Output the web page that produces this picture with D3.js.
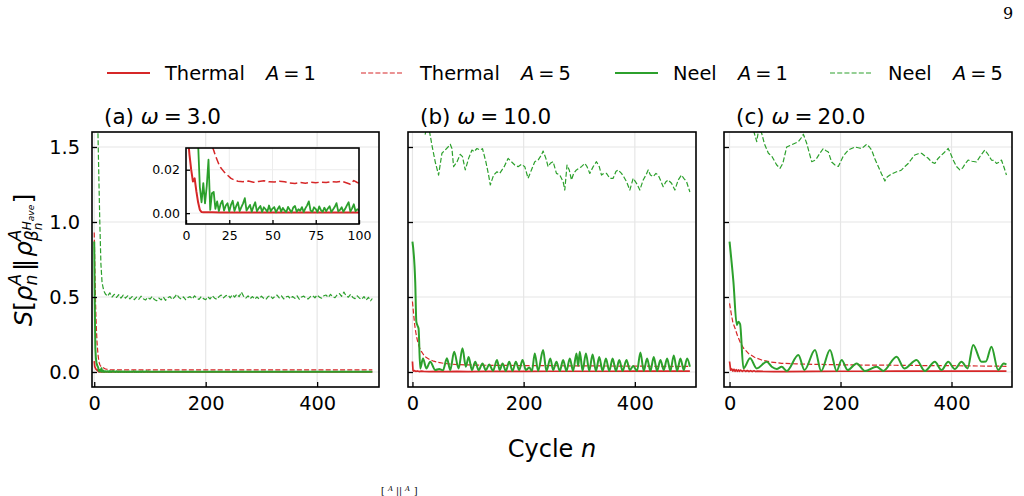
<!DOCTYPE html>
<html><head><meta charset="utf-8">
<script src="https://cdn.jsdelivr.net/npm/d3@7"></script>
<style>body{margin:0;background:#fff}svg{display:block}text{font-family:"DejaVu Sans",sans-serif;fill:#000}</style>
</head><body><svg id="fig" width="1024" height="496"></svg>
<script>
// ---------------- DATA ----------------
const panelTitles = ["(a)", "(b)", "(c)"];
const omegas = ["3.0", "10.0", "20.0"];
const legendNames = ["Thermal", "Thermal", "Neel", "Neel"];
const legendA = ["1", "5", "1", "5"];
const xTicks = [0, 200, 400];
const yTicks = [0, 0.5, 1.0, 1.5];
const insetXTicks = [0, 25, 50, 75, 100];
const insetYTicks = [0, 0.02];

// Panel (a) omega = 3.0   ([cycle n, S])
const a_thermal1 = [[0,0.072],[1,0.036],[2,0.027],[3,0.020],[4,0.0146],[5,0.016],[6,0.010],[7,0.005],[8,0.0015],[9,0.0005],[10,0.0004],[15,0.0004],[20,0.0003],[30,0.0003],[50,0.0003],[70,0.0003],[100,0.0003],[150,0.0003],[200,0.0003],[300,0.0003],[400,0.0003],[499,0.0003]];
const a_thermal5 = [[0,0.93],[1,0.72],[2,0.52],[3,0.38],[4,0.28],[5,0.20],[6,0.15],[7,0.11],[8,0.08],[9,0.062],[10,0.05],[11,0.043],[12,0.038],[13,0.035],[14,0.033],[15,0.031],[16,0.029],[17,0.0265],[18,0.0245],[19,0.0225],[20,0.021],[22,0.019],[24,0.0175],[26,0.016],[28,0.0152],[30,0.0147],[33,0.0145],[36,0.0148],[39,0.0142],[42,0.0146],[45,0.0149],[48,0.0144],[51,0.0143],[54,0.0147],[57,0.0145],[60,0.0139],[63,0.0137],[66,0.0141],[69,0.0138],[72,0.0142],[75,0.014],[78,0.0143],[81,0.0141],[84,0.0145],[87,0.0143],[90,0.0147],[93,0.0139],[95,0.0133],[97,0.015],[99,0.0141],[100,0.0138],[150,0.0144],[200,0.0142],[250,0.0145],[300,0.0143],[350,0.0144],[400,0.0143],[450,0.0145],[499,0.0144]];
// Neel A=1, one value per cycle n = 0..100
const a_neel1_first100 = [0.87,0.45,0.16,0.09,0.062,0.047,0.038,0.032,0.012,0.005,
 0.0138,0.0045,0.0125,0.0246,0.0015,0.0092,0.0098,0.002,0.0054,0.001,
 0.0042,0.0057,0.0012,0.0035,0.0046,0.0008,0.0038,0.0057,0.001,0.0032,
 0.005,0.0009,0.0028,0.0045,0.0069,0.0012,0.0025,0.0038,0.0006,0.0031,
 0.005,0.0008,0.0022,0.0033,0.0005,0.0027,0.0018,0.0006,0.0035,0.0009,
 0.0021,0.0028,0.0004,0.0019,0.0032,0.0007,0.0024,0.0012,0.0005,0.0029,
 0.0015,0.0004,0.0026,0.0033,0.0006,0.0018,0.0011,0.0028,0.0005,0.0022,
 0.0036,0.0054,0.0012,0.0006,0.0027,0.0019,0.0004,0.0031,0.0014,0.0006,
 0.0025,0.0009,0.0021,0.0032,0.0005,0.0017,0.0029,0.0046,0.0008,0.0015,
 0.0027,0.0006,0.002,0.0036,0.005,0.0007,0.0022,0.0041,0.0009,0.0018,0.0012];
const a_neel1_rest = [[110,0.002],[130,0.0015],[160,0.002],[200,0.0018],[250,0.002],[300,0.0017],[350,0.002],[400,0.0019],[450,0.002],[499,0.0018]];
const a_neel5_start = [[0,2.6],[2,2.3],[4,2.0],[6,1.72],[8,1.35],[10,1.0],[12,0.72],[14,0.6],[16,0.56],[18,0.535]];
// Neel A=5, every 4th cycle from n = 20 to 496
const a_neel5_every4 = [0.52,0.505,0.528,0.50,0.518,0.497,0.515,0.493,0.512,
 0.492,0.508,0.487,0.503,0.482,0.499,0.485,0.505,0.489,0.48,0.497,0.486,0.503,0.483,0.475,
 0.493,0.481,0.5,0.478,0.495,0.503,0.484,0.498,0.518,0.497,0.487,0.501,0.482,0.496,0.503,
 0.487,0.508,0.492,0.484,0.503,0.489,0.482,0.501,0.487,0.508,0.492,0.485,0.503,0.513,0.494,
 0.508,0.513,0.495,0.515,0.5,0.518,0.502,0.533,0.505,0.492,0.508,0.489,0.503,0.485,0.5,
 0.487,0.505,0.492,0.484,0.503,0.509,0.49,0.503,0.513,0.494,0.508,0.487,0.501,0.505,0.489,
 0.503,0.491,0.508,0.485,0.5,0.506,0.492,0.487,0.503,0.509,0.495,0.513,0.499,0.492,0.508,
 0.513,0.497,0.518,0.502,0.495,0.515,0.523,0.505,0.533,0.507,0.499,0.518,0.497,0.489,0.508,
 0.492,0.485,0.503,0.479,0.498,0.475];
const a_neel5_end = [[499,0.49]];

// Panel (b) omega = 10.0
const b_thermal1 = [[0,0.07],[1,0.012],[2,0.006],[4,0.009],[6,0.004],[9,0.007],[12,0.003],[16,0.006],[20,0.004],[30,0.003],[45,0.004],[60,0.003],[80,0.004],[100,0.003],[130,0.004],[160,0.004],[200,0.004],[250,0.005],[300,0.005],[350,0.005],[400,0.006],[450,0.006],[499,0.006]];
const b_thermal5 = [[0,0.47],[2,0.39],[4,0.315],[6,0.265],[8,0.225],[10,0.195],[13,0.16],[16,0.137],[20,0.115],[25,0.096],[30,0.085],[38,0.072],[46,0.064],[56,0.058],[70,0.052],[85,0.049],[100,0.047],[130,0.045],[160,0.044],[200,0.043],[250,0.042],[300,0.041],[350,0.04],[400,0.039],[450,0.038],[499,0.037]];
const b_neel1 = [[0,0.869],[5,0.60],[7,0.335],[9,0.31],[11,0.29],[14,0.024],[19,0.09],[25,0.024],[32,0.068],[41,0.013],[48,0.02],[55,0.012],[62,0.091],[68,0.013],[75,0.135],[83,0.024],[90,0.158],[96,0.035],[101,0.10],[107,0.013],[113,0.068],[119,0.012],[126,0.057],[132,0.012],[138,0.05],[145,0.008],[152,0.08],[157,0.013],[162,0.057],[168,0.007],[174,0.068],[180,0.007],[186,0.068],[192,0.013],[198,0.08],[204,0.013],[210,0.03],[215,0.007],[220,0.124],[226,0.007],[235,0.146],[241,0.007],[248,0.09],[253,0.013],[259,0.068],[265,0.007],[271,0.08],[277,0.007],[283,0.09],[289,0.007],[295,0.124],[298,0.04],[301,0.135],[306,0.007],[312,0.124],[318,0.007],[324,0.117],[330,0.007],[336,0.10],[342,0.007],[348,0.09],[354,0.007],[360,0.09],[366,0.007],[372,0.08],[378,0.007],[385,0.08],[391,0.013],[397,0.04],[404,0.007],[410,0.13],[416,0.007],[422,0.09],[428,0.007],[434,0.10],[440,0.007],[446,0.08],[452,0.013],[458,0.09],[464,0.007],[470,0.11],[476,0.007],[482,0.09],[488,0.013],[494,0.09],[499,0.035]];
const b_neel5 = [[0,2.4],[8,2.0],[15,1.8],[20,1.66],[23,1.585],[26,1.64],[31,1.598],[35,1.513],[41,1.40],[47,1.313],[53,1.458],[59,1.48],[64,1.50],[68,1.518],[71,1.49],[74,1.369],[80,1.40],[86,1.451],[90,1.436],[95,1.347],[101,1.424],[107,1.48],[111,1.469],[116,1.49],[122,1.48],[126,1.489],[132,1.402],[137,1.313],[140,1.247],[146,1.313],[152,1.335],[157,1.324],[165,1.369],[172,1.424],[178,1.402],[184,1.38],[190,1.369],[196,1.385],[202,1.369],[208,1.291],[214,1.347],[220,1.402],[226,1.413],[232,1.447],[235,1.473],[240,1.424],[244,1.369],[248,1.391],[253,1.402],[259,1.324],[265,1.313],[271,1.269],[274,1.213],[278,1.38],[282,1.347],[286,1.28],[290,1.324],[295,1.347],[304,1.369],[310,1.391],[314,1.369],[319,1.324],[325,1.369],[331,1.402],[336,1.369],[340,1.313],[344,1.324],[349,1.324],[355,1.291],[361,1.291],[366,1.336],[370,1.347],[376,1.324],[380,1.302],[385,1.269],[391,1.213],[397,1.291],[403,1.258],[409,1.213],[415,1.28],[420,1.313],[424,1.347],[428,1.313],[433,1.302],[438,1.324],[442,1.313],[446,1.28],[451,1.235],[456,1.269],[460,1.28],[466,1.258],[472,1.213],[478,1.28],[484,1.313],[488,1.291],[493,1.269],[499,1.2]];

// Panel (c) omega = 20.0
const c_thermal1 = [[0,0.07],[2,0.012],[4,0.02],[6,0.006],[8,0.018],[10,0.005],[12,0.016],[14,0.004],[16,0.014],[18,0.005],[20,0.013],[23,0.004],[26,0.012],[29,0.004],[32,0.01],[35,0.003],[38,0.009],[41,0.003],[44,0.008],[47,0.003],[50,0.006],[60,0.004],[80,0.003],[100,0.003],[150,0.004],[200,0.005],[250,0.005],[300,0.006],[350,0.006],[400,0.006],[450,0.006],[499,0.006]];
const c_thermal5 = [[0,0.458],[3,0.39],[6,0.33],[10,0.29],[14,0.245],[19,0.2],[25,0.16],[34,0.124],[45,0.098],[58,0.08],[75,0.066],[94,0.058],[120,0.054],[154,0.051],[200,0.048],[250,0.046],[300,0.045],[350,0.043],[400,0.042],[450,0.04],[499,0.038]];
const c_neel1 = [[0,0.869],[7,0.60],[13,0.313],[16,0.335],[19,0.32],[25,0.024],[37,0.091],[49,0.024],[67,0.068],[76,0.035],[85,0.02],[94,0.035],[103,0.007],[124,0.113],[135,0.013],[154,0.147],[165,0.007],[181,0.147],[193,0.007],[202,0.08],[213,0.013],[229,0.057],[244,0.007],[265,0.035],[277,0.007],[301,0.102],[315,0.024],[337,0.08],[352,0.007],[370,0.068],[382,0.013],[394,0.068],[406,0.02],[418,0.068],[429,0.024],[439,0.18],[454,0.068],[462,0.07],[472,0.169],[484,0.013],[494,0.057],[499,0.05]];
const c_neel5 = [[0,2.5],[10,2.1],[20,1.85],[30,1.72],[38,1.64],[44,1.6],[49,1.536],[53,1.63],[58,1.59],[63,1.52],[70,1.458],[76,1.44],[85,1.38],[91,1.358],[96,1.39],[103,1.50],[109,1.51],[115,1.52],[124,1.535],[129,1.56],[133,1.585],[139,1.525],[148,1.402],[153,1.41],[157,1.424],[163,1.46],[169,1.49],[174,1.475],[178,1.467],[184,1.40],[190,1.38],[196,1.37],[205,1.44],[214,1.48],[220,1.49],[226,1.50],[232,1.495],[238,1.49],[243,1.505],[247,1.518],[252,1.50],[256,1.48],[262,1.42],[268,1.37],[274,1.32],[280,1.273],[284,1.30],[289,1.313],[295,1.325],[301,1.335],[306,1.34],[310,1.347],[316,1.37],[322,1.39],[328,1.42],[334,1.447],[340,1.455],[346,1.458],[352,1.44],[358,1.425],[364,1.40],[370,1.39],[375,1.42],[379,1.436],[386,1.46],[394,1.49],[399,1.45],[403,1.413],[409,1.37],[415,1.347],[420,1.36],[425,1.39],[430,1.413],[437,1.405],[445,1.40],[452,1.44],[460,1.48],[466,1.45],[472,1.413],[477,1.41],[481,1.39],[486,1.40],[490,1.413],[495,1.36],[499,1.313]];

// ---------------- DRAWING ----------------
const RED = "#d62728", GREEN = "#2ca02c";
const svg = d3.select("#fig");
const TOP = 132, BOT = 387;
const FS_TICK = 19.4, FS_TITLE = 21.5, FS_LAB = 24;

const panelData = [
  {th1: a_thermal1, th5: a_thermal5,
   ne1: a_neel1_first100.map((v, i) => [i, v]).concat(a_neel1_rest),
   ne5: a_neel5_start.concat(a_neel5_every4.map((v, i) => [20 + 4 * i, v]), a_neel5_end)},
  {th1: b_thermal1, th5: b_thermal5, ne1: b_neel1, ne5: b_neel5},
  {th1: c_thermal1, th5: c_thermal5, ne1: c_neel1, ne5: c_neel5}
];
const layout = [
  {left: 92, right: 379, xd: [-4, 511]},
  {left: 408, right: 696, xd: [-8, 510]},
  {left: 724, right: 1012, xd: [-10, 509]}
];
const styles = [
  {key: "th1", color: RED, dash: null, w: 1.7},
  {key: "th5", color: RED, dash: "5,2.2", w: 1.2},
  {key: "ne1", color: GREEN, dash: null, w: 2},
  {key: "ne5", color: GREEN, dash: "5,2.2", w: 1.2}
];

const y = d3.scaleLinear().domain([-0.1, 1.6]).range([BOT, TOP]);

layout.forEach((L, pi) => {
  const x = d3.scaleLinear().domain(L.xd).range([L.left, L.right]);
  const g = svg.append("g");
  const cid = "clip" + pi;
  g.append("clipPath").attr("id", cid).append("rect")
    .attr("x", L.left).attr("y", TOP).attr("width", L.right - L.left).attr("height", BOT - TOP);
  g.selectAll(".gx").data(xTicks).enter().append("line")
    .attr("x1", d => x(d)).attr("x2", d => x(d)).attr("y1", TOP).attr("y2", BOT)
    .attr("stroke", "#e6e6e6").attr("stroke-width", 1.2);
  g.selectAll(".gy").data(yTicks).enter().append("line")
    .attr("x1", L.left).attr("x2", L.right).attr("y1", d => y(d)).attr("y2", d => y(d))
    .attr("stroke", "#e6e6e6").attr("stroke-width", 1.2);
  const lg = g.append("g").attr("clip-path", `url(#${cid})`);
  styles.forEach(s => {
    const curve = (s.key === "ne1" && pi > 0) ? d3.curveMonotoneX : d3.curveLinear;
    const line = d3.line().x(d => x(d[0])).y(d => y(d[1])).curve(curve);
    lg.append("path").datum(panelData[pi][s.key]).attr("d", line)
      .attr("fill", "none").attr("stroke", s.color).attr("stroke-width", s.w)
      .attr("stroke-dasharray", s.dash).attr("stroke-linejoin", "round");
  });
  const gx = g.append("g").attr("transform", `translate(0,${BOT})`)
    .call(d3.axisBottom(x).tickValues(xTicks).tickSize(-5).tickPadding(9).tickFormat(d3.format("d")));
  const gy = g.append("g").attr("transform", `translate(${L.left},0)`)
    .call(d3.axisLeft(y).tickValues(yTicks).tickSize(-5).tickPadding(12)
      .tickFormat(pi === 0 ? d3.format(".1f") : () => ""));
  [gx, gy].forEach(a => {
    a.select(".domain").remove();
    a.selectAll("line").attr("stroke", "#000").attr("stroke-width", 1.3);
    a.selectAll("text").attr("font-size", FS_TICK).attr("font-family", "DejaVu Sans").attr("fill", "#000");
  });
  g.append("rect").attr("x", L.left).attr("y", TOP).attr("width", L.right - L.left).attr("height", BOT - TOP)
    .attr("fill", "none").attr("stroke", "#000").attr("stroke-width", 1.6);
  const t = g.append("text").attr("x", L.left + 12).attr("y", 124).attr("font-size", FS_TITLE);
  t.append("tspan").text(panelTitles[pi] + " ");
  t.append("tspan").attr("font-style", "italic").text("ω");
  t.append("tspan").attr("dx", 5).text("=");
  t.append("tspan").attr("dx", 5).text(omegas[pi]);

  if (pi === 0) drawInset(panelData[0]);
});

function drawInset(D) {
  const IX = 186, IY = 148, IW = 173, IH = 76;
  const xi = d3.scaleLinear().domain([0, 100]).range([IX, IX + IW]);
  const yi = d3.scaleLinear().domain([-0.005, 0.03]).range([IY + IH, IY]);
  const g = svg.append("g");
  g.append("rect").attr("x", IX).attr("y", IY).attr("width", IW).attr("height", IH).attr("fill", "#fff");
  g.append("clipPath").attr("id", "clipIn").append("rect").attr("x", IX).attr("y", IY).attr("width", IW).attr("height", IH);
  g.selectAll(".igx").data(insetXTicks).enter().append("line")
    .attr("x1", d => xi(d)).attr("x2", d => xi(d)).attr("y1", IY).attr("y2", IY + IH)
    .attr("stroke", "#ececec").attr("stroke-width", 1);
  g.selectAll(".igy").data(insetYTicks).enter().append("line")
    .attr("x1", IX).attr("x2", IX + IW).attr("y1", d => yi(d)).attr("y2", d => yi(d))
    .attr("stroke", "#ececec").attr("stroke-width", 1);
  const lg = g.append("g").attr("clip-path", "url(#clipIn)");
  const ist = [
    {key: "th1", color: RED, dash: null, w: 2},
    {key: "th5", color: RED, dash: "7.5,3.3", w: 1.5},
    {key: "ne1", color: GREEN, dash: null, w: 1.8}
  ];
  ist.forEach(s => {
    const pts = D[s.key].filter(d => d[0] <= 110);
    lg.append("path").datum(pts)
      .attr("d", d3.line().x(d => xi(d[0])).y(d => yi(d[1])))
      .attr("fill", "none").attr("stroke", s.color).attr("stroke-width", s.w)
      .attr("stroke-dasharray", s.dash).attr("stroke-linejoin", "round");
  });
  const gx = g.append("g").attr("transform", `translate(0,${IY + IH})`)
    .call(d3.axisBottom(xi).tickValues(insetXTicks).tickSize(-4).tickPadding(7).tickFormat(d3.format("d")));
  const gy = g.append("g").attr("transform", `translate(${IX},0)`)
    .call(d3.axisLeft(yi).tickValues(insetYTicks).tickSize(-4).tickPadding(6).tickFormat(d3.format(".2f")));
  [gx, gy].forEach(a => {
    a.select(".domain").remove();
    a.selectAll("line").attr("stroke", "#000").attr("stroke-width", 1.3);
    a.selectAll("text").attr("font-size", 12.5).attr("font-family", "DejaVu Sans").attr("fill", "#000");
  });
  g.append("rect").attr("x", IX).attr("y", IY).attr("width", IW).attr("height", IH)
    .attr("fill", "none").attr("stroke", "#000").attr("stroke-width", 1.6);
}

// legend
const legX = [107, 361, 615, 830];
const legTextX = [165, 420, 673, 888];
const legAX = [266, 521, 738, 953];
styles.forEach((s, i) => {
  const g = svg.append("g");
  g.append("line").attr("x1", legX[i]).attr("x2", legX[i] + 43).attr("y1", 73).attr("y2", 73)
    .attr("stroke", s.color).attr("stroke-width", s.dash ? 1.2 : 2).attr("stroke-dasharray", s.dash);
  g.append("text").attr("x", legTextX[i]).attr("y", 80).attr("font-size", FS_TICK).text(legendNames[i]);
  const t = g.append("text").attr("x", legAX[i]).attr("y", 80).attr("font-size", FS_TICK);
  t.append("tspan").attr("font-style", "italic").text("A");
  t.append("tspan").attr("dx", 4).text("=");
  t.append("tspan").attr("dx", 4).text(legendA[i]);
});

// x label
const xl = svg.append("text").attr("x", 552).attr("y", 457).attr("font-size", FS_LAB).attr("text-anchor", "middle");
xl.append("tspan").text("Cycle ");
xl.append("tspan").attr("font-style", "italic").text("n");

// y label (rotated math text)
(function () {
  const fs = 24.5;
  const outer = svg.append("g");
  const g = outer.append("g");
  let x = 0;
  function put(t, size, italic, up, at) {
    const el = g.append("text").attr("x", at).attr("y", -up).attr("font-size", size)
      .attr("font-style", italic ? "italic" : "normal").text(t);
    return el.node().getComputedTextLength();
  }
  x += put("S", fs, true, 0, x);
  x += put("[", fs, false, 0, x);
  x += put("ρ", fs, true, 0, x);
  const s1 = fs * 0.7, s2 = s1 * 0.7, s3 = s2 * 0.75;
  const w1 = put("A", s1, true, fs * 0.45, x);
  const w2 = put("n", s1, true, -fs * 0.22, x);
  x += Math.max(w1, w2) + fs * 0.12;
  x += put("‖", fs, false, 0, x) + fs * 0.08;
  x += put("ρ", fs, true, 0, x);
  const xs = x;
  const wA = put("A", s1, true, fs * 0.45, x);
  const wb = put("β", s1, true, -fs * 0.26, x);
  const xh = x + wb;
  const subBase = -fs * 0.26;
  const wn = put("n", s2, true, subBase - s1 * 0.22, xh);
  const wH = put("H", s2, true, subBase + s1 * 0.42, xh);
  const wave = put("ave", s3, true, subBase + s1 * 0.42 - s2 * 0.22, xh + wH);
  x = Math.max(xs + wA, xh + Math.max(wn, wH + wave)) + fs * 0.06;
  x += put("]", fs, false, 0, x);
  const total = x;
  outer.attr("transform", `translate(32,${260 + total / 2}) rotate(-90)`);
})();

// page number and caption fragment at the bottom edge
const SERIF = "'DejaVu Serif',serif";
svg.append("text").attr("x", 1008).attr("y", 19).attr("font-size", 16).attr("text-anchor", "middle")
  .style("font-family", SERIF).text("9");
const cap = svg.append("g");
const capPieces = [["[", 381, 494, 9, "normal"], ["A", 388, 491, 7, "italic"], ["||", 396, 494, 9, "normal"],
                   ["A", 405, 491, 7, "italic"], ["]", 414, 494, 9, "normal"]];
capPieces.forEach(p => cap.append("text").attr("x", p[1]).attr("y", p[2]).attr("font-size", p[3])
  .style("font-family", SERIF).style("font-style", p[4]).text(p[0]));
</script></body></html>
